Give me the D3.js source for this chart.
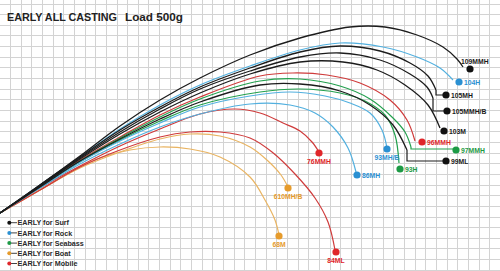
<!DOCTYPE html>
<html>
<head>
<meta charset="utf-8">
<script src="https://cdn.jsdelivr.net/npm/d3@7"></script>
<style>
html,body{margin:0;padding:0;background:#fff;}
svg{display:block;}
</style>
</head>
<body>
<svg id="chart" width="500" height="271"></svg>
<script>
// ---- Data (coordinates in the figure's own units: x along, y drop from top) ----
const title = "EARLY ALL CASTING";
const subtitle = "Load 500g";
const seriesNames = ["EARLY for Surf", "EARLY for Rock", "EARLY for Seabass", "EARLY for Boat", "EARLY for Mobile"];
const seriesKeys = ["Surf", "Rock", "Seabass", "Boat", "Mobile"];

const rod109MMH = [[0,213],[40,185],[80,156],[120,126],[160,100],[200,78],[250,55],[300,38],[350,27],[385,27],[417,35],[443,47],[457,59],[463,67]];
const rod104H   = [[0,213],[40,185],[80,157],[120,129],[160,105],[200,85],[250,66],[300,50],[340,43],[383,47],[417,57],[440,68],[453,80]];
const rod105MH  = [[0,213],[40,185],[80,157],[120,130],[160,107],[200,87],[250,68],[300,52],[340,46],[380,51],[410,63],[428,76],[436,90]];
const rod105MMHB= [[0,213],[40,186],[80,158],[120,132],[160,109],[200,89],[250,71],[300,57],[340,53],[380,60],[410,74],[427,87],[433,98]];
const rod103M   = [[0,213],[40,186],[80,159],[120,134],[160,112],[200,93],[250,74],[300,62],[343,62],[377,70],[405,85],[428,105],[440,128]];
const rod96MMH  = [[0,213],[40,186],[80,160],[120,137],[160,115],[200,97],[260,76],[293,73],[327,75],[360,83],[390,100],[407,120],[415,141]];
const rod97MMH  = [[0,213],[40,187],[80,161],[120,138],[160,117],[200,99],[260,81],[300,79],[340,86],[370,99],[393,118],[405,132],[411,147]];
const rod99ML   = [[0,213],[40,187],[80,161],[120,139],[160,119],[200,102],[260,85],[300,84],[340,91],[370,105],[393,125],[407,150]];
const rod93H    = [[0,213],[40,187],[80,162],[120,140],[160,121],[200,105],[260,92],[300,89],[340,93],[365,101],[385,115],[395,135],[399,163]];
const rod93MHB  = [[0,213],[40,187],[80,162],[120,141],[160,123],[200,107],[250,96],[290,92],[325,96],[350,103],[370,113],[382,130],[387,148]];
const rod86MH   = [[0,213],[40,188],[80,164],[120,144],[160,127],[200,114],[250,104],[290,105],[315,113],[333,127],[348,148],[356,172]];
const rod76MMH  = [[0,213],[40,188],[80,166],[120,146],[160,129],[200,114],[235,109],[260,113],[283,123],[300,131],[312,142],[319,152]];
const rod84ML   = [[0,213],[40,190],[80,167],[120,150],[160,137],[190,132],[220,132],[250,138],[272,152],[295,174],[315,198],[328,222],[335,250]];
const rod610MHB = [[0,213],[40,190],[80,168],[120,152],[160,139],[190,134],[220,136],[250,147],[268,161],[281,175],[288,187]];
const rod68M    = [[0,213],[40,190],[80,167],[100,158],[130,150],[160,147],[190,149],[220,157],[250,177],[265,200],[275,220],[279,235]];

// end markers (dot positions)
const models = [
  {name:"68M",     series:"Boat",    pts:rod68M,     leader:null, dot:[279,236], lab:"below"},
  {name:"610MH/B", series:"Boat",    pts:rod610MHB,  leader:null, dot:[288,188], lab:"below"},
  {name:"84ML",    series:"Mobile",  pts:rod84ML,    leader:null, dot:[336,252], lab:"below"},
  {name:"76MMH",   series:"Mobile",  pts:rod76MMH,   leader:null, dot:[319,153], lab:"below"},
  {name:"97MMH",   series:"Seabass", pts:rod97MMH,   leader:[[411,147],[411,149],[456,149]], dot:[456,150], lab:"right"},
  {name:"93H",     series:"Seabass", pts:rod93H,     leader:null, dot:[400,169], lab:"right"},
  {name:"96MMH",   series:"Mobile",  pts:rod96MMH,   leader:null, dot:[422,142], lab:"right"},
  {name:"86MH",    series:"Rock",    pts:rod86MH,    leader:null, dot:[357,175], lab:"right"},
  {name:"93MH/B",  series:"Rock",    pts:rod93MHB,   leader:null, dot:[387,149], lab:"below"},
  {name:"104H",    series:"Rock",    pts:rod104H,    leader:null, dot:[459,82],  lab:"right"},
  {name:"99ML",    series:"Surf",    pts:rod99ML,    leader:[[407,150],[407,161],[446,161]], dot:[446,161], lab:"right"},
  {name:"103M",    series:"Surf",    pts:rod103M,    leader:null, dot:[444,131], lab:"right"},
  {name:"105MMH/B",series:"Surf",    pts:rod105MMHB, leader:[[433,98],[433,111],[447,111]], dot:[447,111], lab:"right"},
  {name:"105MH",   series:"Surf",    pts:rod105MH,   leader:[[436,90],[436,95],[446,95]], dot:[446,95], lab:"right"},
  {name:"109MMH",  series:"Surf",    pts:rod109MMH,  leader:null, dot:[470,69],  lab:"above"}
];

// ---- Styles ----
const lineColor = {Surf:"#1c1c1c", Rock:"#52b0df", Seabass:"#23a04e", Boat:"#e9b462", Mobile:"#cf3b3b"};
const dotColor  = {Surf:"#111111", Rock:"#2b90d2", Seabass:"#1d9a45", Boat:"#e69b2c", Mobile:"#e0262a"};
const textColor = {Surf:"#1a1a1a", Rock:"#2b90d2", Seabass:"#1d9a45", Boat:"#e69b2c", Mobile:"#e0262a"};

const W = 500, H = 271;
const svg = d3.select("#chart");
const x = d3.scaleLinear().domain([0, 500]).range([0, W]);
const y = d3.scaleLinear().domain([0, 271]).range([0, H]);

// grid
const gridStep = 10.65;
const gx = d3.range(10 - gridStep, 500, gridStep);
const gy = d3.range(3.5, 271, gridStep);
const grid = svg.append("g").attr("stroke", "#d3d3d3").attr("stroke-width", 1);
grid.selectAll("line.v").data(gx).join("line")
  .attr("x1", d => Math.round(x(d)) + 0.5).attr("x2", d => Math.round(x(d)) + 0.5)
  .attr("y1", 0).attr("y2", H);
grid.selectAll("line.h").data(gy).join("line")
  .attr("y1", d => Math.round(y(d)) + 0.5).attr("y2", d => Math.round(y(d)) + 0.5)
  .attr("x1", 0).attr("x2", W);

// title
svg.append("text").attr("x", 7).attr("y", 20.5).text(title)
  .attr("font-family", "Liberation Sans, Arial, sans-serif").attr("font-weight", "bold")
  .attr("font-size", 11).attr("fill", "#222")
  .attr("textLength", 110).attr("lengthAdjust", "spacingAndGlyphs");
svg.append("text").attr("x", 125).attr("y", 20.5).text(subtitle)
  .attr("font-family", "Liberation Sans, Arial, sans-serif").attr("font-weight", "bold")
  .attr("font-size", 11).attr("fill", "#222")
  .attr("textLength", 58).attr("lengthAdjust", "spacingAndGlyphs");

// curves
const line = d3.line().x(d => x(d[0])).y(d => y(d[1])).curve(d3.curveCatmullRom.alpha(0.5));
const straight = d3.line().x(d => x(d[0])).y(d => y(d[1]));
const order = ["Boat", "Mobile", "Seabass", "Rock", "Surf"];
const sorted = models.slice().sort((a, b) => order.indexOf(a.series) - order.indexOf(b.series));

const curves = svg.append("g").attr("fill", "none");
sorted.forEach(m => {
  curves.append("path").attr("d", line(m.pts))
    .attr("stroke", lineColor[m.series])
    .attr("stroke-width", m.series === "Surf" ? 1.3 : 1.2);
  if (m.leader) {
    curves.append("path").attr("d", straight(m.leader))
      .attr("stroke", lineColor[m.series]).attr("stroke-width", 1.2);
  }
});

// markers + labels
const marks = svg.append("g");
models.forEach(m => {
  marks.append("circle").attr("cx", x(m.dot[0])).attr("cy", y(m.dot[1])).attr("r", 3.6)
    .attr("fill", dotColor[m.series]);
  const t = marks.append("text").text(m.name)
    .attr("font-family", "Liberation Sans, Arial, sans-serif").attr("font-weight", "bold")
    .attr("font-size", 6.8).attr("fill", textColor[m.series]);
  if (m.lab === "right") {
    t.attr("x", x(m.dot[0]) + 5).attr("y", y(m.dot[1]) + 2.5);
  } else if (m.lab === "below") {
    t.attr("x", x(m.dot[0])).attr("y", y(m.dot[1]) + 11).attr("text-anchor", "middle");
  } else {
    t.attr("x", x(m.dot[0]) - 9).attr("y", y(m.dot[1]) - 5);
  }
});

// legend
const legend = svg.append("g");
seriesNames.forEach((name, i) => {
  const key = seriesKeys[i];
  const ly = 222.7 + i * 10.2;
  legend.append("line").attr("x1", 9).attr("x2", 17).attr("y1", ly).attr("y2", ly)
    .attr("stroke", "#444").attr("stroke-width", 1);
  legend.append("circle").attr("cx", 9.3).attr("cy", ly).attr("r", 2)
    .attr("fill", dotColor[key]);
  legend.append("text").attr("x", 17.5).attr("y", ly + 2.6).text(name)
    .attr("font-family", "Liberation Sans, Arial, sans-serif").attr("font-weight", "bold")
    .attr("font-size", 7.2).attr("fill", "#2a2a2a");
});
</script>
</body>
</html>
